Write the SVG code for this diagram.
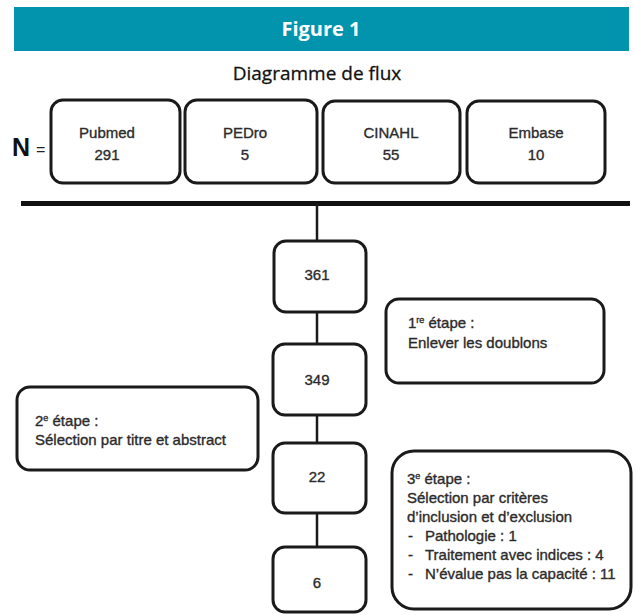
<svg xmlns="http://www.w3.org/2000/svg" width="636" height="615" viewBox="0 0 636 615">
<style>
.box{fill:#fff;stroke:#1a1a1a;stroke-width:3}
.t{font-family:"Liberation Sans",Arial,sans-serif;font-size:15px;fill:#2b2b2b;stroke:#2b2b2b;stroke-width:0.35}
.c{text-anchor:middle}
.sup{font-size:9px}
.conn{stroke:#1a1a1a;stroke-width:2.5;fill:none}
</style>
<rect x="14" y="7" width="615" height="44" fill="#0294ad"/>
<text x="321" y="36" text-anchor="middle" font-family="'Open Sans',sans-serif" font-weight="bold" font-size="20" fill="#fff">Figure 1</text>
<text x="317" y="80" text-anchor="middle" font-family="'Open Sans',sans-serif" font-size="19" fill="#111" stroke="#111" stroke-width="0.3">Diagramme de flux</text>
<text x="12" y="156" font-family="'Liberation Sans',Arial,sans-serif" font-weight="bold" font-size="25" fill="#111">N</text>
<text x="36" y="155" font-family="'Liberation Sans',Arial,sans-serif" font-size="16" fill="#222">=</text>
<g id="connectors">
<line x1="21" y1="203.5" x2="630" y2="203.5" stroke="#111" stroke-width="5"/>
<line class="conn" x1="317" y1="203" x2="317" y2="241"/>
<line class="conn" x1="317" y1="312" x2="317" y2="344"/>
<line class="conn" x1="317" y1="415" x2="317" y2="443"/>
<line class="conn" x1="317" y1="513" x2="317" y2="547"/>
</g>
<g id="pubmed"><rect class="box" x="51" y="100" width="129" height="83" rx="12"/><text class="t c" x="107" y="138">Pubmed</text><text class="t c" x="107" y="160">291</text></g>
<g id="pedro"><rect class="box" x="185" y="100" width="132" height="83" rx="12"/><text class="t c" x="245" y="138">PEDro</text><text class="t c" x="245" y="160">5</text></g>
<g id="cinahl"><rect class="box" x="323" y="101" width="137" height="82" rx="12"/><text class="t c" x="391" y="138">CINAHL</text><text class="t c" x="391" y="160">55</text></g>
<g id="embase"><rect class="box" x="467" y="101" width="138" height="82" rx="12"/><text class="t c" x="536" y="138">Embase</text><text class="t c" x="536" y="160">10</text></g>
<g id="n361"><rect class="box" x="274" y="241" width="92" height="71" rx="12"/><text class="t c" x="317" y="280">361</text></g>
<g id="n349"><rect class="box" x="273" y="344" width="93" height="71" rx="12"/><text class="t c" x="317" y="385">349</text></g>
<g id="n22"><rect class="box" x="273" y="443" width="93" height="70" rx="12"/><text class="t c" x="317" y="482">22</text></g>
<g id="n6"><rect class="box" x="273" y="547" width="93" height="65" rx="12"/><text class="t c" x="317" y="588">6</text></g>
<g id="step1"><rect class="box" x="386" y="299" width="218" height="84" rx="13"/>
<text class="t" x="408" y="328">1<tspan class="sup" dy="-5">re</tspan><tspan dy="5"> étape :</tspan></text>
<text class="t" x="408" y="348">Enlever les doublons</text></g>
<g id="step2"><rect class="box" x="17" y="387" width="241" height="83" rx="13"/>
<text class="t" x="35" y="426">2<tspan class="sup" dy="-5">e</tspan><tspan dy="5"> étape :</tspan></text>
<text class="t" x="35" y="445">Sélection par titre et abstract</text></g>
<g id="step3"><rect class="box" x="392" y="451" width="239" height="158" rx="22"/>
<text class="t" x="407" y="484">3<tspan class="sup" dy="-5">e</tspan><tspan dy="5"> étape :</tspan></text>
<text class="t" x="407" y="503">Sélection par critères</text>
<text class="t" x="407" y="522">d’inclusion et d’exclusion</text>
<text class="t" x="408" y="541">-</text><text class="t" x="425" y="541">Pathologie : 1</text>
<text class="t" x="408" y="560">-</text><text class="t" x="425" y="560">Traitement avec indices : 4</text>
<text class="t" x="408" y="579">-</text><text class="t" x="425" y="579">N’évalue pas la capacité : 11</text></g>
</svg>
